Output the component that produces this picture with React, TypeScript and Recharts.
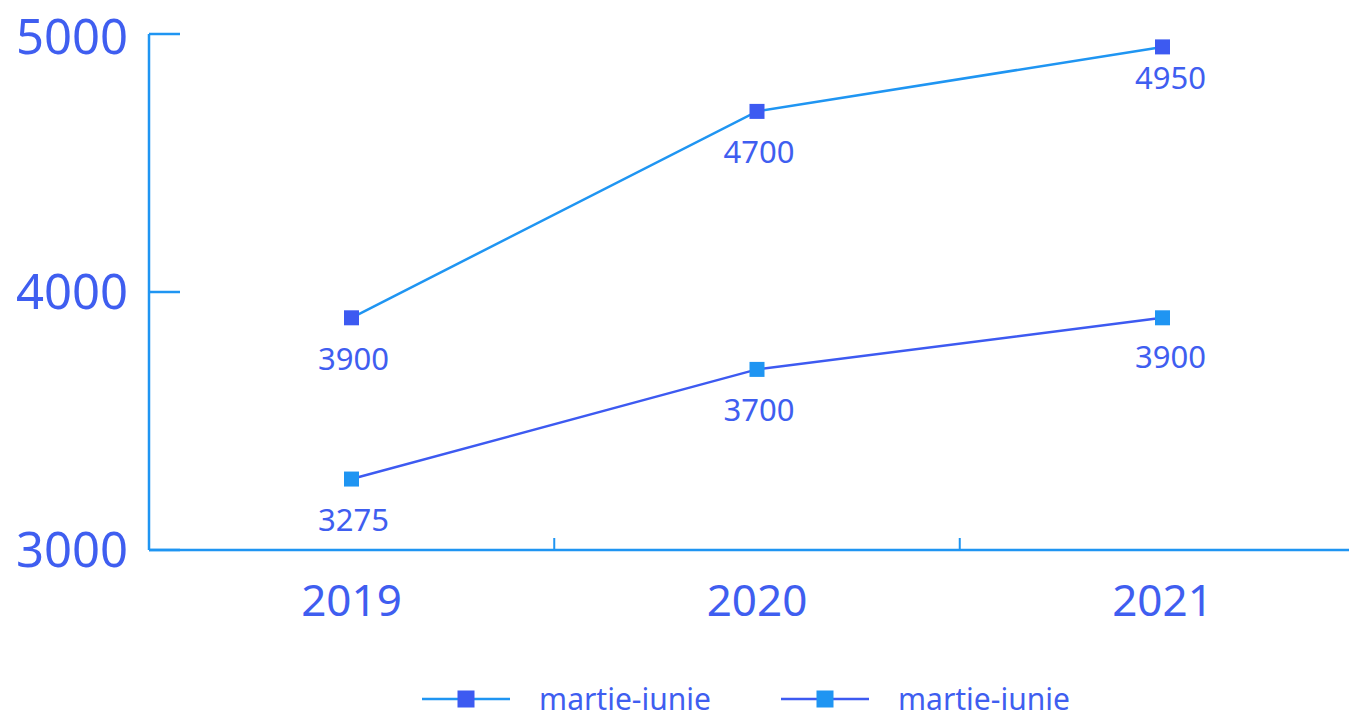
import { LineChart, Line, XAxis, YAxis, Legend, LabelList } from 'recharts';

const years = ['2019', '2020', '2021'];
const seriesA = [3900, 4700, 4950];
const seriesB = [3275, 3700, 3900];
const seriesNames = ['martie-iunie', 'martie-iunie'];
const yTicks = [3000, 4000, 5000];

const data = years.map((year, i) => ({ year, a: seriesA[i], b: seriesB[i] }));

const DARK = '#3d5af1';
const LIGHT = '#1f95f2';
const TEXT = '#3f5ef0';
const FONT = '"Noto Sans", sans-serif';

// half the distance between two category points, used for the boundary ticks
const HALF_STEP = 202.75;

const SquareDot = (color: string) => (props: any) => {
  const { cx, cy, index } = props;
  if (cx == null || cy == null) return null;
  return <rect key={index} x={cx - 7.5} y={cy - 7.5} width={15} height={15} fill={color} />;
};

// the top-right label sits a little closer to its point in the reference
const makeLabel = (lift: number[]) => (props: any) => {
  const { x, y, value, index } = props;
  const dx = index === years.length - 1 ? 8 : 2;
  return (
    <text
      x={x + dx}
      y={y + 40 - (lift[index] || 0)}
      textAnchor="middle"
      dominantBaseline="central"
      fontSize={31}
      fontFamily={FONT}
      fill={TEXT}
    >
      {value}
    </text>
  );
};

const LabelA = makeLabel([0, 0, 10]);
const LabelB = makeLabel([0, 0, 2]);

const YearTick = (props: any) => {
  const { x, y, payload, index } = props;
  return (
    <g>
      {index < years.length - 1 && (
        <line x1={x + HALF_STEP} x2={x + HALF_STEP} y1={y} y2={y - 12} stroke={LIGHT} strokeWidth={2} />
      )}
      <text
        x={x}
        y={y + 49}
        textAnchor="middle"
        dominantBaseline="central"
        fontSize={44}
        fontFamily={FONT}
        fill={TEXT}
      >
        {payload.value}
      </text>
    </g>
  );
};

const LegendContent = () => {
  const items = [
    { line: LIGHT, mark: DARK, name: seriesNames[0] },
    { line: DARK, mark: LIGHT, name: seriesNames[1] },
  ];
  return (
    <div
      style={{
        display: 'flex',
        justifyContent: 'center',
        alignItems: 'center',
        height: 32,
        paddingLeft: 127,
        gap: 70,
        fontFamily: FONT,
        position: 'relative',
        top: 3,
      }}
    >
      {items.map((it, i) => (
        <div key={i} style={{ display: 'flex', alignItems: 'center', gap: 29 }}>
          <svg width={88} height={20}>
            <line x1={0} x2={88} y1={10} y2={10} stroke={it.line} strokeWidth={2.5} />
            <rect x={35.5} y={1.5} width={17} height={17} fill={it.mark} />
          </svg>
          <span style={{ fontSize: 30, color: TEXT, lineHeight: '32px' }}>{it.name}</span>
        </div>
      ))}
    </div>
  );
};

export default function App() {
  return (
    <LineChart
      width={1349}
      height={704}
      data={data}
      margin={{ top: 26, right: 0, left: 0, bottom: 0 }}
      style={{ fontFamily: FONT }}
    >
      <XAxis
        dataKey="year"
        height={130}
        scale="point"
        padding={{ left: 202.5, right: 194.5 }}
        axisLine={{ stroke: LIGHT, strokeWidth: 2.5 }}
        tickLine={false}
        tickSize={0}
        tickMargin={0}
        tick={<YearTick />}
        interval={0}
      />
      <YAxis
        width={141}
        domain={[3000, 5000]}
        ticks={yTicks}
        allowDataOverflow
        axisLine={{ stroke: LIGHT, strokeWidth: 2.5 }}
        tickLine={{ stroke: LIGHT, strokeWidth: 2.5 }}
        tickSize={-31}
        tickMargin={52}
        tick={{ fontSize: 49, fill: TEXT, fontFamily: FONT }}
      />
      <Legend verticalAlign="bottom" height={32} content={<LegendContent />} />
      <Line
        dataKey="a"
        name={seriesNames[0]}
        type="linear"
        stroke={LIGHT}
        strokeWidth={2.5}
        dot={SquareDot(DARK)}
        activeDot={false}
        isAnimationActive={false}
      >
        <LabelList dataKey="a" content={<LabelA />} />
      </Line>
      <Line
        dataKey="b"
        name={seriesNames[1]}
        type="linear"
        stroke={DARK}
        strokeWidth={2.5}
        dot={SquareDot(LIGHT)}
        activeDot={false}
        isAnimationActive={false}
      >
        <LabelList dataKey="b" content={<LabelB />} />
      </Line>
    </LineChart>
  );
}
